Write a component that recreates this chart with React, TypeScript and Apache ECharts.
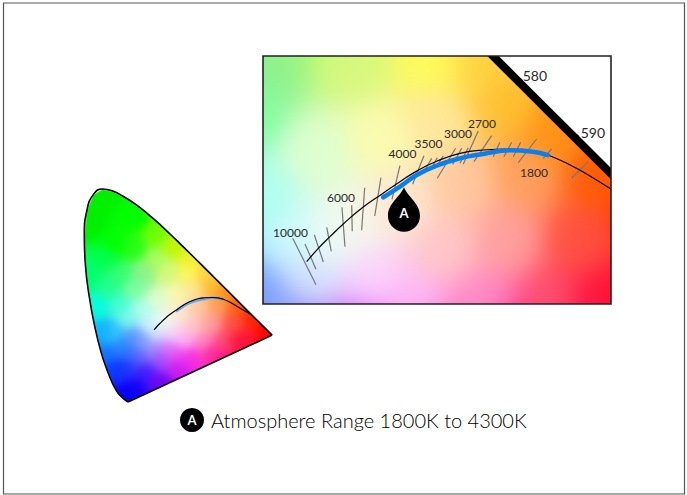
import React, { useEffect, useRef } from "react";
import * as echarts from "echarts";

// CIE 1931 spectral locus [x, y], 380 nm to 700 nm
const spectralLocus: number[][] = [
  [0.1741, 0.005], [0.144, 0.0297], [0.1241, 0.0578], [0.1096, 0.0868], [0.0913, 0.1327], [0.0687, 0.2007],
  [0.0454, 0.295], [0.0235, 0.4127], [0.0082, 0.5384], [0.0039, 0.6548], [0.0139, 0.7502], [0.0389, 0.812],
  [0.0743, 0.8338], [0.1142, 0.8262], [0.1547, 0.8059], [0.1929, 0.7816], [0.2296, 0.7543], [0.2658, 0.7243],
  [0.3016, 0.6923], [0.3373, 0.6589], [0.3731, 0.6245], [0.4087, 0.5896], [0.4441, 0.5547], [0.4788, 0.5202],
  [0.5125, 0.4866], [0.5448, 0.4544], [0.5752, 0.4242], [0.6029, 0.3965], [0.627, 0.3725], [0.6658, 0.334],
  [0.6915, 0.3083], [0.719, 0.2809], [0.7347, 0.2653],
];
const purpleLine: number[][] = [[0.7347, 0.2653], [0.1741, 0.005]];
const wavelengthDots: (number | string)[][] = [[0.5125, 0.4866], [0.5752, 0.4242]];
const wavelengthLabels: (number | string)[][] = [[0.5303, 0.4933, "580"], [0.5951, 0.4307, "590"]];

// Black-body curve
const planckCurve: number[][] = [
  [0.2753, 0.2858], [0.2883, 0.3008], [0.3013, 0.3138], [0.3162, 0.328], [0.3367, 0.3455], [0.3591, 0.3612],
  [0.3795, 0.3752], [0.3982, 0.387], [0.4205, 0.398], [0.4465, 0.4069], [0.4726, 0.4106], [0.5024, 0.4117],
  [0.5281, 0.4095], [0.5448, 0.405], [0.5713, 0.3931], [0.5899, 0.3827], [0.6152, 0.3671], [0.656, 0.344],
];
// Atmosphere range
const atmosphereRange: number[][] = [
  [0.3609, 0.3578], [0.3795, 0.3696], [0.3982, 0.3827], [0.4205, 0.3931], [0.4465, 0.4013], [0.4726, 0.4062],
  [0.5024, 0.4103], [0.5281, 0.4087], [0.5448, 0.405],
];
// Iso-temperature ticks [x1, y1, x2, y2]
const isoTicks: number[][] = [
  [0.2597, 0.312, 0.2857, 0.2602], [0.2734, 0.3056, 0.2857, 0.2774], [0.2838, 0.316, 0.2939, 0.2855],
  [0.2977, 0.3243, 0.3028, 0.2975], [0.3147, 0.3466, 0.3181, 0.3026], [0.3256, 0.3488, 0.3262, 0.3198],
  [0.3401, 0.3685, 0.3367, 0.3209], [0.3583, 0.3797, 0.3513, 0.3369], [0.3795, 0.3931, 0.3706, 0.3555],
  [0.4063, 0.4042, 0.3937, 0.3723], [0.4149, 0.4013, 0.4086, 0.3902], [0.4212, 0.402, 0.4149, 0.3908],
  [0.4279, 0.4042, 0.4205, 0.392], [0.4417, 0.4125, 0.4212, 0.379], [0.4485, 0.4125, 0.4384, 0.3946],
  [0.4558, 0.4132, 0.4465, 0.3958], [0.467, 0.4318, 0.4502, 0.3946], [0.482, 0.4266, 0.4622, 0.3976],
  [0.4912, 0.4192, 0.4837, 0.4031], [0.5043, 0.4192, 0.4957, 0.4031], [0.5144, 0.4192, 0.5061, 0.4031],
  [0.5322, 0.4229, 0.5117, 0.3964], [0.549, 0.4117, 0.5396, 0.4013], [0.5899, 0.3976, 0.5713, 0.379],
];
const kelvinLabels: (number | string)[][] = [
  [0.2572, 0.319, "10000"], [0.3136, 0.3581, "6000"], [0.3823, 0.4062, "4000"], [0.4114, 0.4179, "3500"],
  [0.4443, 0.429, "3000"], [0.4711, 0.4397, "2700"], [0.5292, 0.386, "1800"],
];
const pinPoint: (number | string)[][] = [[0.384, 0.3442, "A"]];
const caption = "Atmosphere Range 1800K to 4300K";
const captionBadge = "A";

// Colour wash anchors [x, y, hex]
const washAnchors: [number, number, string][] = [
  [0.08, 0.83, "#00f000"], [0.02, 0.7, "#00f000"], [0.2, 0.72, "#00ff00"], [0.12, 0.62, "#00ff00"], [0.28, 0.66, "#70ff00"],
  [0.36, 0.61, "#c0f800"], [0.42, 0.56, "#f0f020"], [0.47, 0.51, "#ffd040"], [0.03, 0.5, "#00ff70"], [0.06, 0.38, "#00ffe0"],
  [0.09, 0.28, "#00b0ff"], [0.13, 0.14, "#0030ff"], [0.165, 0.02, "#0000f0"], [0.14, 0.38, "#40ffd0"], [0.2, 0.45, "#80ffa0"],
  [0.15, 0.5, "#30ff70"], [0.23, 0.51, "#90f090"], [0.33, 0.51, "#d8f880"], [0.414, 0.51, "#ffff60"], [0.23, 0.36, "#b0fff0"],
  [0.29, 0.4, "#e0ffd0"], [0.36, 0.42, "#fbfdb0"], [0.42, 0.44, "#ffe8a0"], [0.5, 0.46, "#ffc030"], [0.55, 0.43, "#ff9010"],
  [0.6, 0.38, "#ff5a00"], [0.66, 0.33, "#ff2000"], [0.72, 0.27, "#ff0000"], [0.52, 0.38, "#ffa060"], [0.45, 0.37, "#ffc8a0"],
  [0.38, 0.35, "#ffe8d0"], [0.33, 0.33, "#f8f8e8"], [0.3, 0.31, "#f0fff8"], [0.26, 0.31, "#c8ffff"], [0.28, 0.27, "#d8e8ff"],
  [0.23, 0.24, "#88a4ff"], [0.35, 0.27, "#ffd8ff"], [0.39, 0.24, "#ffc0f8"], [0.47, 0.24, "#ff90c8"], [0.55, 0.24, "#ff5070"],
  [0.615, 0.24, "#ff1030"], [0.58, 0.31, "#ff5040"], [0.5, 0.31, "#ffa0a0"], [0.43, 0.3, "#ffc8c8"], [0.2, 0.25, "#5090ff"],
  [0.17, 0.14, "#2030ff"], [0.24, 0.12, "#4010ff"], [0.2, 0.06, "#1000f8"], [0.3, 0.08, "#7000f0"], [0.3, 0.17, "#a040ff"],
  [0.37, 0.14, "#d010f0"], [0.42, 0.18, "#ff20e0"], [0.5, 0.2, "#ff20a0"], [0.6, 0.23, "#ff1040"], [0.12, 0.27, "#40d0ff"],
  [0.17, 0.33, "#80fff0"], [0.1, 0.45, "#20ff90"], [0.08, 0.56, "#00ff50"], [0.2, 0.6, "#20ff10"], [0.28, 0.56, "#a8ff60"],
  [0.14, 0.22, "#2090ff"], [0.1, 0.19, "#1070ff"], [0.17, 0.2, "#3070ff"], [0.22, 0.18, "#6060ff"], [0.27, 0.21, "#a090ff"],
  [0.33, 0.21, "#e070ff"], [0.37, 0.19, "#f040f0"], [0.55, 0.17, "#ff1080"],
];

const insetRange = [0.2265, 0.2386, 0.6153, 0.5156];
const fullRange = [0, 0, 0.8, 0.9];

const FONT = "Lato, 'Open Sans', sans-serif";
const PIN = "path://M16 0C20 10 32 16 32 28.5A16 16 0 1 1 0 28.5C0 16 12 10 16 0Z";

const anchorRgb = washAnchors.map((a) => {
  const n = parseInt(a[2].slice(1), 16);
  return [a[0], a[1], (n >> 16) & 255, (n >> 8) & 255, n & 255];
});

function paintField(range: number[], w: number, h: number, soft: number): string {
  const cv = document.createElement("canvas");
  cv.width = w;
  cv.height = h;
  const ctx = cv.getContext("2d")!;
  const img = ctx.createImageData(w, h);
  for (let j = 0; j < h; j++) {
    for (let i = 0; i < w; i++) {
      const x = range[0] + ((i + 0.5) / w) * (range[2] - range[0]);
      const y = range[3] - ((j + 0.5) / h) * (range[3] - range[1]);
      let sw = 0, r = 0, g = 0, b = 0;
      for (const a of anchorRgb) {
        const d2 = (a[0] - x) ** 2 + (a[1] - y) ** 2 + soft;
        const wt = 1 / (d2 * d2 * d2);
        sw += wt; r += wt * a[2]; g += wt * a[3]; b += wt * a[4];
      }
      const k = (i + j * w) * 4;
      img.data[k] = r / sw;
      img.data[k + 1] = g / sw;
      img.data[k + 2] = b / sw;
      img.data[k + 3] = 255;
    }
  }
  ctx.putImageData(img, 0, 0);
  ctx.globalCompositeOperation = "destination-in";
  ctx.beginPath();
  spectralLocus.forEach(([x, y], n) => {
    const px = ((x - range[0]) / (range[2] - range[0])) * w;
    const py = ((range[3] - y) / (range[3] - range[1])) * h;
    if (n) ctx.lineTo(px, py); else ctx.moveTo(px, py);
  });
  ctx.closePath();
  ctx.fill();
  return cv.toDataURL("image/png");
}

function fieldSeries(range: number[], idx: number, url: string) {
  return {
    type: "custom", xAxisIndex: idx, yAxisIndex: idx, z: 1, silent: true, clip: true,
    data: [range],
    renderItem: (_: any, api: any) => {
      const a = api.coord([api.value(0), api.value(3)]);
      const b = api.coord([api.value(2), api.value(1)]);
      return { type: "image", style: { image: url, x: a[0], y: a[1], width: b[0] - a[0], height: b[1] - a[1] } };
    },
  };
}

const line = (idx: number, data: number[][], color: string, width: number, z: number, smooth = true, cap = "butt") => ({
  type: "line", xAxisIndex: idx, yAxisIndex: idx, data, smooth, symbol: "none", z, silent: true, clip: true,
  lineStyle: { color, width, cap, join: "round" },
});

const labels = (data: (number | string)[][], size: number, z: number) => ({
  type: "scatter", xAxisIndex: 0, yAxisIndex: 0, data, symbolSize: 1, z, silent: true,
  itemStyle: { color: "transparent", opacity: 1 },
  label: { show: true, position: "inside", formatter: (p: any) => p.value[2], fontFamily: FONT, fontSize: size, color: "#2a2a2a" },
});

export default function App() {
  const ref = useRef<HTMLDivElement>(null);
  useEffect(() => {
    document.body.style.margin = "0";
    const chart = echarts.init(ref.current!, null, { renderer: "svg" });
    const insetUrl = paintField(insetRange, 348, 248, 0.0025);
    const fullUrl = paintField(fullRange, 412, 462, 0.004);
    const axis = (r: number[], i: number, dim: 0 | 1) => ({
      type: "value", gridIndex: i, show: false, scale: true, min: r[dim], max: r[dim + 2],
    });
    chart.setOption({
      animation: false,
      backgroundColor: "#ffffff",
      grid: [
        { left: 263, top: 56, width: 348, height: 248 },
        { left: 83.3, top: 172, width: 205.6, height: 231.3 },
      ],
      xAxis: [axis(insetRange, 0, 0), axis(fullRange, 1, 0)],
      yAxis: [axis(insetRange, 0, 1), axis(fullRange, 1, 1)],
      series: [
        fieldSeries(insetRange, 0, insetUrl),
        fieldSeries(fullRange, 1, fullUrl),
        line(0, spectralLocus, "#000", 8, 3, false),
        ...isoTicks.map((t) => line(0, [[t[0], t[1]], [t[2], t[3]]], "#777", 1.2, 4, false)),
        line(0, planckCurve, "#000", 1.2, 5),
        line(0, atmosphereRange, "#0a7ff0", 4.5, 6, true, "round"),
        {
          type: "scatter", xAxisIndex: 0, yAxisIndex: 0, data: wavelengthDots, symbolSize: 8, z: 7, silent: true,
          itemStyle: { color: "#000", opacity: 1 },
        },
        labels(wavelengthLabels, 14, 8),
        labels(kelvinLabels, 12, 8),
        {
          type: "scatter", xAxisIndex: 0, yAxisIndex: 0, data: pinPoint, symbol: PIN, symbolSize: [32, 44.5], z: 9, silent: true,
          itemStyle: { color: "#000", opacity: 1 },
          label: {
            show: true, position: "inside", offset: [0, 4], formatter: (p: any) => p.value[2],
            fontFamily: FONT, fontWeight: "bold", fontSize: 13, color: "#fff",
          },
        },
        line(1, spectralLocus, "#000", 1.6, 3),
        line(1, purpleLine, "#000", 1.6, 3, false),
        line(1, atmosphereRange, "#6ea6ee", 2.5, 4),
        line(1, planckCurve, "#000", 1.2, 5),
      ],
      graphic: [
        { type: "rect", z: 10, silent: true, shape: { x: 263, y: 44, width: 360, height: 12 }, style: { fill: "#fff" } },
        { type: "rect", z: 10, silent: true, shape: { x: 611, y: 44, width: 12, height: 262 }, style: { fill: "#fff" } },
        { type: "rect", z: 20, silent: true, shape: { x: 3.5, y: 3, width: 681, height: 491 }, style: { fill: "none", stroke: "#555", lineWidth: 1.2 } },
        { type: "rect", z: 20, silent: true, shape: { x: 263, y: 56, width: 348, height: 248 }, style: { fill: "none", stroke: "#222", lineWidth: 1.6 } },
        { type: "circle", z: 20, silent: true, shape: { cx: 192, cy: 420, r: 12 }, style: { fill: "#000" } },
        { type: "text", z: 21, silent: true, x: 192, y: 420, style: { text: captionBadge, fill: "#fff", font: `bold 13px ${FONT}`, align: "center", verticalAlign: "middle" } },
        { type: "text", z: 21, silent: true, x: 211, y: 420, style: { text: caption, fill: "#000", font: `300 20px ${FONT}`, align: "left", verticalAlign: "middle" } },
      ],
    });
    return () => chart.dispose();
  }, []);
  return <div ref={ref} style={{ width: 687, height: 495 }} />;
}
